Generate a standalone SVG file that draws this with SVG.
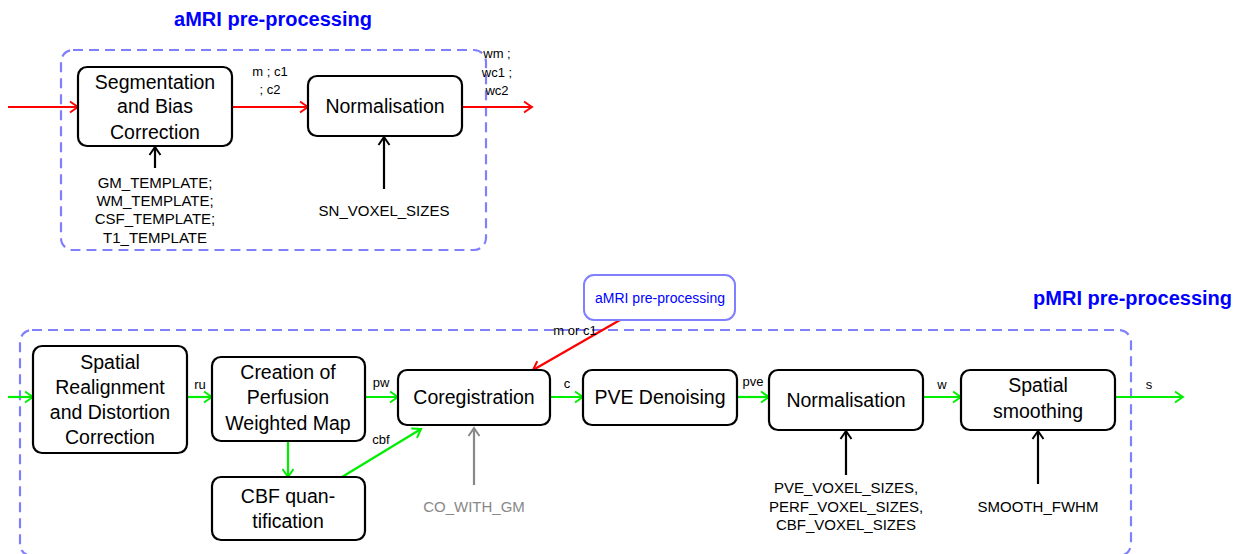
<svg xmlns="http://www.w3.org/2000/svg" width="1248" height="554" viewBox="0 0 1248 554">
<style>
text{font-family:"Liberation Sans",Arial,sans-serif;fill:#000}
.node{fill:#fff;stroke:#000;stroke-width:2.2}
.big{font-size:19.5px;text-anchor:middle}
.lbl{font-size:13px;text-anchor:middle}
.prm{font-size:15px;text-anchor:middle}
.title{font-size:20px;font-weight:bold;fill:#0000ff}
.frame{fill:none;stroke:#8080ff;stroke-width:2.2;stroke-dasharray:10 6}
.red{stroke:#ff0000;stroke-width:2.2;fill:none;marker-end:url(#ar)}
.grn{stroke:#00ee00;stroke-width:2.2;fill:none;marker-end:url(#ag)}
.blk{stroke:#000;stroke-width:2.2;fill:none;marker-end:url(#ak)}
.gry{stroke:#888;stroke-width:2.2;fill:none;marker-end:url(#ay)}
</style>
<defs>
<marker id="ar" markerUnits="userSpaceOnUse" markerWidth="14" markerHeight="14" refX="11" refY="7" orient="auto"><path d="M3,1.5 Q8,5 11,7 Q8,9 3,12.5" fill="none" stroke="#ff0000" stroke-width="2"/></marker>
<marker id="ag" markerUnits="userSpaceOnUse" markerWidth="14" markerHeight="14" refX="11" refY="7" orient="auto"><path d="M3,1.5 Q8,5 11,7 Q8,9 3,12.5" fill="none" stroke="#00ee00" stroke-width="2"/></marker>
<marker id="ak" markerUnits="userSpaceOnUse" markerWidth="14" markerHeight="14" refX="11" refY="7" orient="auto"><path d="M3,1.5 Q8,5 11,7 Q8,9 3,12.5" fill="none" stroke="#000" stroke-width="2"/></marker>
<marker id="ay" markerUnits="userSpaceOnUse" markerWidth="14" markerHeight="14" refX="11" refY="7" orient="auto"><path d="M3,1.5 Q8,5 11,7 Q8,9 3,12.5" fill="none" stroke="#888" stroke-width="2"/></marker>
</defs>

<g id="frames">
<rect class="frame" x="61" y="50" width="425" height="200" rx="12"/>
<text class="title" x="273" y="26" text-anchor="middle">aMRI pre-processing</text>
<rect class="frame" x="20" y="330" width="1111" height="226" rx="12"/>
<text class="title" x="1232" y="305" text-anchor="end">pMRI pre-processing</text>
</g>

<g id="connectors">
<line class="red" x1="8" y1="107" x2="78" y2="107"/>
<line class="red" x1="232" y1="107" x2="308" y2="107"/>
<line class="red" x1="462" y1="107" x2="532" y2="107"/>
<text class="lbl" x="270" y="76">m ; c1</text>
<text class="lbl" x="270" y="94">; c2</text>
<text class="lbl" x="497" y="58">wm ;</text>
<text class="lbl" x="497" y="77">wc1 ;</text>
<text class="lbl" x="497" y="95">wc2</text>
<line class="blk" x1="155" y1="168" x2="155" y2="147"/>
<line class="blk" x1="384" y1="189" x2="384" y2="137"/>

<line class="grn" x1="8" y1="397" x2="33" y2="397"/>
<line class="grn" x1="187" y1="397" x2="212" y2="397"/>
<text class="lbl" x="200" y="389">ru</text>
<line class="grn" x1="365" y1="397" x2="398" y2="397"/>
<text class="lbl" x="381" y="387">pw</text>
<line class="grn" x1="288" y1="441" x2="288" y2="477"/>
<line class="grn" x1="342" y1="477" x2="421" y2="429"/>
<text class="lbl" x="381" y="444">cbf</text>
<line class="grn" x1="550" y1="397" x2="583" y2="397"/>
<text class="lbl" x="567" y="388">c</text>
<line class="grn" x1="737" y1="397" x2="769" y2="397"/>
<text class="lbl" x="753" y="386">pve</text>
<line class="grn" x1="923" y1="397" x2="961" y2="397"/>
<text class="lbl" x="942" y="389">w</text>
<line class="grn" x1="1115" y1="397" x2="1183" y2="397"/>
<text class="lbl" x="1149" y="389">s</text>
<line class="red" x1="620" y1="320" x2="533" y2="370"/>
<text class="lbl" x="575" y="335">m or c1</text>
<line class="gry" x1="474" y1="485" x2="474" y2="428"/>
<line class="blk" x1="846" y1="475" x2="846" y2="431"/>
<line class="blk" x1="1038" y1="484" x2="1038" y2="431"/>
</g>

<g id="seg">
<rect class="node" x="78" y="67" width="154" height="79" rx="9"/>
<text class="big" x="155" y="89">Segmentation</text>
<text class="big" x="155" y="113">and Bias</text>
<text class="big" x="155" y="139">Correction</text>
</g>
<g id="seg-params">
<text class="prm" x="155" y="188">GM_TEMPLATE;</text>
<text class="prm" x="155" y="206">WM_TEMPLATE;</text>
<text class="prm" x="155" y="224">CSF_TEMPLATE;</text>
<text class="prm" x="155" y="243">T1_TEMPLATE</text>
</g>
<g id="anorm">
<rect class="node" x="308" y="76" width="154" height="60" rx="9"/>
<text class="big" x="385" y="113">Normalisation</text>
</g>
<g id="anorm-params"><text class="prm" x="384" y="216">SN_VOXEL_SIZES</text></g>

<g id="amri-ref">
<rect x="584" y="275" width="151" height="45" rx="10" fill="#fff" stroke="#8080ff" stroke-width="2"/>
<text x="660" y="303" text-anchor="middle" style="font-size:14px;fill:#0000ff">aMRI pre-processing</text>
</g>
<g id="realign">
<rect class="node" x="33" y="346" width="154" height="107" rx="9"/>
<text class="big" x="110" y="369">Spatial</text>
<text class="big" x="110" y="394">Realignment</text>
<text class="big" x="110" y="419">and Distortion</text>
<text class="big" x="110" y="444">Correction</text>
</g>
<g id="pwm">
<rect class="node" x="212" y="357" width="153" height="84" rx="9"/>
<text class="big" x="288" y="379">Creation of</text>
<text class="big" x="288" y="404">Perfusion</text>
<text class="big" x="288" y="430">Weighted Map</text>
</g>
<g id="cbf">
<rect class="node" x="212" y="477" width="153" height="63" rx="9"/>
<text class="big" x="288" y="503">CBF quan-</text>
<text class="big" x="288" y="528">tification</text>
</g>
<g id="coreg">
<rect class="node" x="398" y="370" width="152" height="55" rx="9"/>
<text class="big" x="474" y="404">Coregistration</text>
</g>
<g id="coreg-param"><text class="prm" x="474" y="512" style="fill:#888">CO_WITH_GM</text></g>
<g id="pve">
<rect class="node" x="583" y="370" width="154" height="55" rx="9"/>
<text class="big" x="660" y="404">PVE Denoising</text>
</g>
<g id="pnorm">
<rect class="node" x="769" y="370" width="154" height="60" rx="9"/>
<text class="big" x="846" y="407">Normalisation</text>
</g>
<g id="pnorm-params">
<text class="prm" x="846" y="493">PVE_VOXEL_SIZES,</text>
<text class="prm" x="846" y="512">PERF_VOXEL_SIZES,</text>
<text class="prm" x="846" y="530">CBF_VOXEL_SIZES</text>
</g>
<g id="smooth">
<rect class="node" x="961" y="370" width="154" height="60" rx="9"/>
<text class="big" x="1038" y="392">Spatial</text>
<text class="big" x="1038" y="418">smoothing</text>
</g>
<g id="smooth-param"><text class="prm" x="1038" y="512">SMOOTH_FWHM</text></g>
</svg>
